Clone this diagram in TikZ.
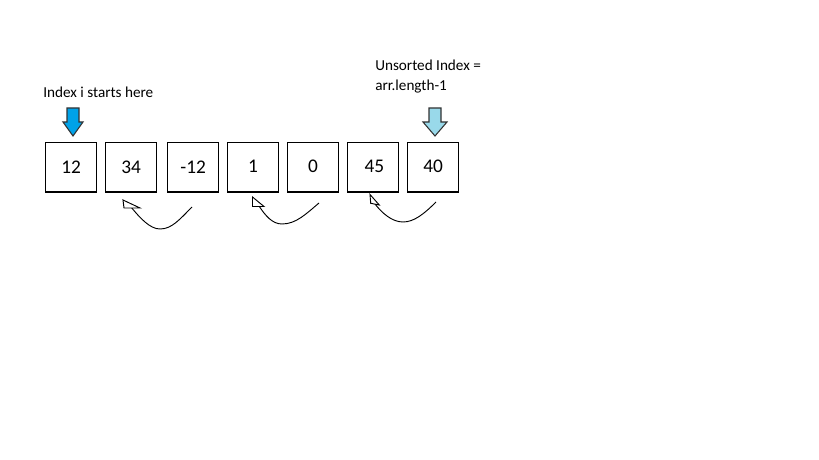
\documentclass[tikz,border=0pt]{standalone}
\usepackage{fontspec}
\setmainfont{Carlito}
\begin{document}
\begin{tikzpicture}[x=0.75pt,y=-0.75pt,
  cell/.style={draw=black,line width=0.9pt,minimum width=38.25pt,minimum height=37pt,inner sep=0pt,anchor=north west,font=\fontsize{14.5}{16}\selectfont},
  lbl/.style={anchor=west,inner sep=0pt,align=left,font=\fontsize{11.4}{14.4}\selectfont},
  curv/.style={line width=0.7pt},
  headtri/.style={draw=black,fill=white,line width=0.7pt,line join=miter},
  bluearrow/.style={draw=black!80,line width=0.8pt,line join=miter}]
\useasboundingbox (0,0) rectangle (819,460);
\fill[white] (0,0) rectangle (819,460);
% cells
\node[cell] (b1) at (45,142) {\raisebox{-2pt}{12}\hspace{4pt}};
\node[cell] (b2) at (105,142) {34\hspace{2pt}};
\node[cell] (b3) at (167,142) {-12\hspace{2pt}};
\node[cell] (b4) at (227,142) {\raisebox{2pt}{1}};
\node[cell] (b5) at (287,142) {\raisebox{1pt}{0}\hspace{4pt}};
\node[cell] (b6) at (347,142) {\hspace{2pt}\raisebox{2pt}{45}};
\node[cell] (b7) at (407,142) {\raisebox{2pt}{40}\hspace{2pt}};
% labels
\node[lbl] (l1) at (43,92) {Index i starts here};
\node[lbl,anchor=north west] (l2) at (375,60) {Unsorted Index =\\arr.length-1};
% block arrows
\filldraw[bluearrow,fill={rgb,255:red,0;green,162;blue,232}]
  (67,108) -- (79,108) -- (79,122) -- (83,122) -- (73,136) -- (63,122) -- (67,122) -- cycle;
\filldraw[bluearrow,fill={rgb,255:red,153;green,217;blue,234}]
  (429,108) -- (441,108) -- (441,122) -- (447,122) -- (435,136) -- (423,122) -- (429,122) -- cycle;
% curved arrows
\coordinate (s1) at (192,207); \coordinate (m1) at (160,229); \coordinate (e1) at (131,207);
\coordinate (s2) at (319,203); \coordinate (m2) at (282,224); \coordinate (e2) at (259,206);
\coordinate (s3) at (436,202); \coordinate (m3) at (403,222); \coordinate (e3) at (375,204);
\draw[curv] (s1) .. controls (180,219) and (172,229) .. (m1) .. controls (150,229) and (140,218) .. (e1);
\draw[curv] (s2) .. controls (306,214) and (296,224) .. (m2) .. controls (272,224) and (265,215) .. (e2);
\draw[curv] (s3) .. controls (424,214) and (414,222) .. (m3) .. controls (392,222) and (382,213) .. (e3);
\draw[headtri] (123,200) -- (124,208) -- (140,208) -- cycle;
\draw[headtri] (252.5,197) -- (252.5,206.5) -- (264,206.5) -- cycle;
\draw[headtri] (370,194.5) -- (370.7,203.3) -- (379.3,205) -- cycle;
\end{tikzpicture}
\end{document}
